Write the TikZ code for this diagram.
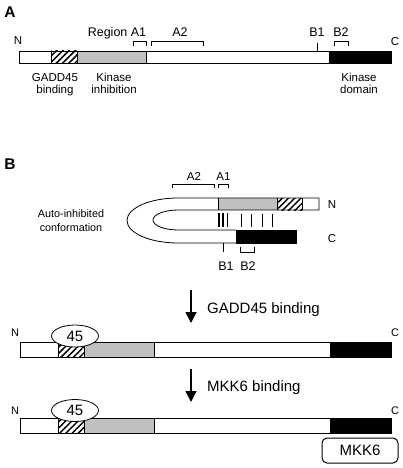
\documentclass[tikz,border=0pt]{standalone}
\usepackage{fontspec}
\setmainfont{Liberation Sans}
\usetikzlibrary{patterns.meta,arrows.meta,shapes.geometric}
\definecolor{bargray}{RGB}{192,192,192}
\tikzset{
  bar/.style={draw=black, line width=0.8pt},
  hatch/.style={pattern={Lines[angle=45,distance=4.4pt,line width=1.5pt]}},
  brk/.style={draw=black, line width=0.7pt},
  lbl/.style={inner sep=0pt, anchor=base},
  fa/.style={font=\fontsize{12.5}{14}\selectfont},
  fs/.style={font=\fontsize{11.5}{13}\selectfont},
  fb/.style={font=\fontsize{15}{17}\selectfont},
  panel/.style={inner sep=0pt, anchor=base, font=\fontsize{15.5}{17}\selectfont\bfseries},
  arr/.style={line width=1.6pt, -{Triangle[width=11pt,length=11pt]}},
  oval/.style={draw, ellipse, fill=white, line width=0.8pt, inner sep=0pt, minimum width=47pt, minimum height=22pt, font=\fontsize{15}{17}\selectfont},
  boxk/.style={draw, rounded corners=5pt, line width=1pt, minimum width=76pt, minimum height=25pt, inner sep=0pt, font=\fontsize{15}{17}\selectfont}
}
\begin{document}
\begin{tikzpicture}[x=1pt,y=-1pt]
\useasboundingbox (0,0) rectangle (403,468);

% ---------------- Panel A ----------------
\node[panel] (pA) at (10,18) {A};
\fill[hatch] (51,51) rectangle (77,63);
\fill[bargray] (77,51) rectangle (146,63);
\fill[black] (329,51) rectangle (391,63);
\draw[bar] (19,51) rectangle (391,63);
\draw[bar] (51,51) -- (51,63) (77,51) -- (77,63) (146,51) -- (146,63);
\draw[brk] (133,46) -- (133,41) -- (146,41) -- (146,46);
\draw[brk] (151,46) -- (151,41) -- (203,41) -- (203,46);
\draw[brk] (317,43) -- (317,51);
\draw[brk] (334,46) -- (334,41) -- (348,41) -- (348,46);
\node[lbl,fs] (aN) at (18,45) {N};
\node[lbl,fs] (aC) at (395,46) {C};
\node[lbl,fa] (aRA1) at (117,37) {Region A1};
\node[lbl,fa] (aA2) at (180,37) {A2};
\node[lbl,fa] (aB1) at (317,37) {B1};
\node[lbl,fa] (aB2) at (341,37) {B2};
\node[lbl,fs] (g1) at (55,82) {GADD45};
\node[lbl,fs] (g2) at (55,94) {binding};
\node[lbl,fs] (k1) at (114,82) {Kinase};
\node[lbl,fs] (k2) at (114,94) {inhibition};
\node[lbl,fs] (d1) at (359,82) {Kinase};
\node[lbl,fs] (d2) at (359,94) {domain};

% ---------------- Panel B ----------------
\node[panel] (pB) at (10,169) {B};
\node[lbl,font=\fontsize{10.8}{12}\selectfont] (au1) at (71,217) {Auto-inhibited};
\node[lbl,font=\fontsize{10.8}{12}\selectfont] (au2) at (71,231.5) {conformation};

\fill[bargray] (218,198) rectangle (277,210);
\fill[hatch] (277,198) rectangle (302,210);
\fill[black] (236,230) rectangle (296,243);
\draw[bar] (319,198) -- (178,198) arc[start angle=-90,end angle=-270,x radius=51,y radius=22.5] -- (236,243);
\draw[bar] (319,198) -- (319,210) -- (178,210) arc[start angle=-90,end angle=-270,x radius=25,y radius=10] -- (236,230);
\draw[bar] (236,230) rectangle (296,243);
\draw[bar] (218,198) -- (218,210) (277,198) -- (277,210) (302,198) -- (302,210);
\draw[line width=1.6pt] (219,213) -- (219,227) (223,213) -- (223,227) (227.5,213) -- (227.5,227);
\draw[line width=0.6pt] (241,214) -- (241,227) (251,214) -- (251,227) (262,214) -- (262,227) (272,214) -- (272,227);
\draw[brk] (172,188) -- (172,184) -- (214,184) -- (214,188);
\draw[brk] (218,188) -- (218,184) -- (228,184) -- (228,188);
\draw[brk] (223,243) -- (223,252);
\draw[brk] (240,247) -- (240,252) -- (254,252) -- (254,247);
\node[lbl,fs] (bA2) at (194,180) {A2};
\node[lbl,fs] (bA1) at (223.5,180) {A1};
\node[lbl,fs] (bN) at (332,208) {N};
\node[lbl,fs] (bC) at (332,242) {C};
\node[lbl,fa] (bB1) at (226,270) {B1};
\node[lbl,fa] (bB2) at (248,270) {B2};

% arrow 1
\coordinate (a1s) at (191,290);
\coordinate (a1e) at (191,323);
\draw[arr] (a1s) -- (a1e);
\node[lbl,fb,anchor=base west] (t1) at (207,313) {GADD45 binding};

% bar 2
\fill[hatch] (58,342) rectangle (84,357);
\fill[bargray] (84,342) rectangle (154,357);
\fill[black] (330,342) rectangle (391,357);
\draw[bar] (20,342) rectangle (391,357);
\draw[bar] (58,342) -- (58,357) (84,342) -- (84,357) (154,342) -- (154,357) (330,342) -- (330,357);
\node[oval] (e1) at (75,336) {45};
\node[lbl,font=\fontsize{11}{13}\selectfont] (n2) at (15,336) {N};
\node[lbl,font=\fontsize{11}{13}\selectfont] (c2) at (395,336.5) {C};

% arrow 2
\coordinate (a2s) at (191,369);
\coordinate (a2e) at (191,402);
\draw[arr] (a2s) -- (a2e);
\node[lbl,fb,anchor=base west] (t2) at (207,391.5) {MKK6 binding};

% bar 3
\fill[hatch] (58,418) rectangle (84,433);
\fill[bargray] (84,418) rectangle (154,433);
\fill[black] (330,418) rectangle (391,433);
\draw[bar] (20,418) rectangle (391,433);
\draw[bar] (58,418) -- (58,433) (84,418) -- (84,433) (154,418) -- (154,433) (330,418) -- (330,433);
\node[oval] (e2) at (75,410.5) {45};
\node[lbl,font=\fontsize{11}{13}\selectfont] (n3) at (15,414) {N};
\node[lbl,font=\fontsize{11}{13}\selectfont] (c3) at (395,414) {C};

\node[boxk] (mkk) at (360,450.5) {MKK6};
\end{tikzpicture}
\end{document}
